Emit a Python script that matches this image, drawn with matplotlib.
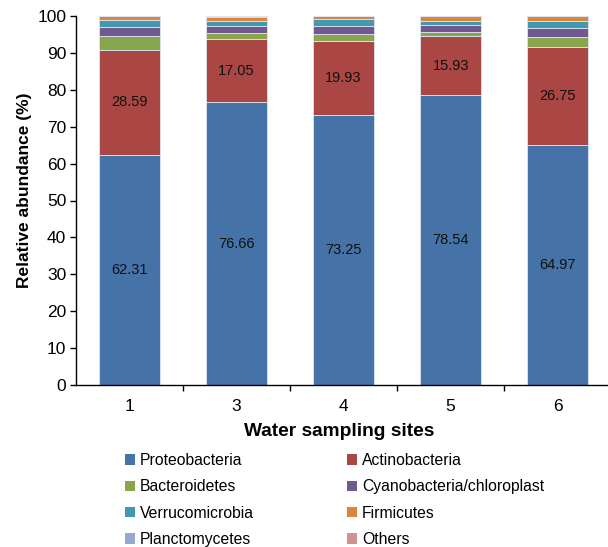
import matplotlib
matplotlib.use("Agg")
import matplotlib.pyplot as plt
from matplotlib.patches import Patch
import numpy as np

sites = ["1", "3", "4", "5", "6"]
proteobacteria = [62.31, 76.66, 73.25, 78.54, 64.97]
actinobacteria = [28.59, 17.05, 19.93, 15.93, 26.75]
bacteroidetes = [3.8, 1.6, 2.0, 1.1, 2.7]
cyanobacteria = [2.3, 2.0, 2.1, 1.9, 2.35]
verrucomicrobia = [1.8, 1.2, 1.8, 1.3, 1.8]
firmicutes = [1.1, 1.35, 0.9, 1.2, 1.35]
planctomycetes = [0.05, 0.08, 0.01, 0.02, 0.05]
others = [0.05, 0.06, 0.01, 0.01, 0.03]

series = [
    ("Proteobacteria", proteobacteria, "#4572A7"),
    ("Actinobacteria", actinobacteria, "#AA4643"),
    ("Bacteroidetes", bacteroidetes, "#89A54E"),
    ("Cyanobacteria/chloroplast", cyanobacteria, "#71588F"),
    ("Verrucomicrobia", verrucomicrobia, "#4198AF"),
    ("Firmicutes", firmicutes, "#DB843D"),
    ("Planctomycetes", planctomycetes, "#93A9CF"),
    ("Others", others, "#D19392"),
]
labelled = {"Proteobacteria", "Actinobacteria"}

plt.rcParams["font.family"] = ["Liberation Sans", "DejaVu Sans"]

fig = plt.figure(figsize=(6.08, 5.47), dpi=100)
W, H = 608, 547
ax = fig.add_axes([76 / W, 1 - 385 / H, (608 - 76) / W, (385 - 16) / H])

x = np.arange(len(sites))
bottom = np.zeros(len(sites))
for name, vals, col in series:
    vals = np.array(vals)
    ax.bar(x, vals, width=0.57, bottom=bottom, color=col,
           edgecolor="#dce6f2", linewidth=0.6)
    if name in labelled:
        for xi, b, v in zip(x, bottom, vals):
            ax.text(xi, b + v / 2, f"{v:.2f}", ha="center", va="center",
                    fontsize=10.5, color="#111111")
    bottom += vals

ax.set_xlim(-0.5, 4.47)
ax.set_ylim(0, 100)
ax.set_yticks(range(0, 101, 10))
ax.set_xticks(x)
ax.set_xticklabels(sites)
ax.set_xticks(np.arange(0.5, 4.5, 1), minor=True)
ax.tick_params(axis="x", which="major", length=0, pad=10, labelsize=12.5)
ax.tick_params(axis="x", which="minor", length=4, direction="out", width=1)
ax.tick_params(axis="y", length=4, direction="out", width=1, labelsize=12.5, pad=3)
for s in ["top", "right"]:
    ax.spines[s].set_visible(False)
for s in ["left", "bottom"]:
    ax.spines[s].set_linewidth(1.0)
    ax.spines[s].set_color("#000000")

ax.set_ylabel("Relative abundance (%)", fontsize=12.5, fontweight="bold")
ax.yaxis.set_label_coords(-(76 - 25) / (608 - 76), (385 - 190) / (385 - 16))
ax.set_xlabel("Water sampling sites", fontsize=13.8, fontweight="bold")
ax.xaxis.set_label_coords((339 - 76) / (608 - 76), -(432 - 385) / (385 - 16))
ax.xaxis.label.set_va("center")
ax.yaxis.label.set_va("center")

handles = [Patch(facecolor=c, edgecolor="none", label=n) for n, _, c in series]
legend_kw = dict(loc="upper left", frameon=False, fontsize=11.3, handlelength=0.65,
                 handleheight=0.65, handletextpad=0.3, labelspacing=0.72, borderpad=0,
                 borderaxespad=0)
fig.legend(handles=handles[0::2], bbox_to_anchor=(125 / W, 1 - 453 / H), **legend_kw)
fig.legend(handles=handles[1::2], bbox_to_anchor=(347 / W, 1 - 453 / H), **legend_kw)

fig.savefig("out.png", dpi=100)
